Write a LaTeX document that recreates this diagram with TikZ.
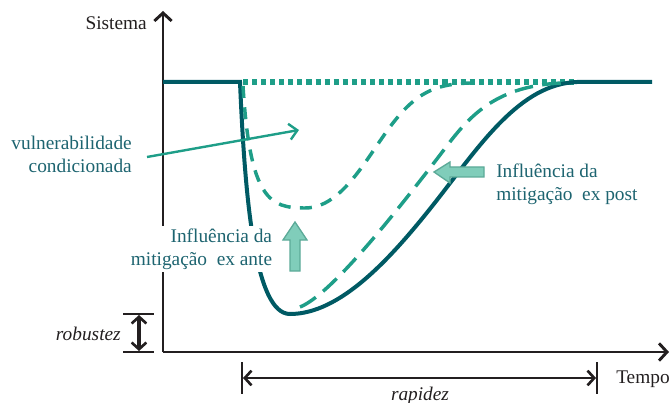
\documentclass[tikz,border=0pt]{standalone}
\usepackage{fontspec}
\setmainfont{Liberation Serif}
\usetikzlibrary{arrows.meta}
\definecolor{darkteal}{HTML}{005A64}
\definecolor{teal2}{HTML}{1E9E88}
\definecolor{txtteal}{HTML}{1D6470}
\definecolor{ink}{HTML}{231F20}
\definecolor{blockfill}{HTML}{80CDBA}
\definecolor{blockedge}{HTML}{5CAA98}
\begin{document}
\begin{tikzpicture}[x=0.75pt,y=-0.75pt,
  lbl/.style={font=\fontsize{14.5}{17.4}\selectfont, inner sep=0pt},
  axis/.style={draw=ink, line width=2.2pt, -{Straight Barb[length=6pt,width=13pt,line width=2.2pt]}},
  maincurve/.style={draw=darkteal, line width=3pt},
  dotline/.style={draw=teal2, line width=3.8pt, dash pattern=on 3.8pt off 3pt},
  shortdash/.style={draw=teal2, line width=2.6pt, dash pattern=on 9pt off 7pt},
  longdash/.style={draw=teal2, line width=2.6pt, dash pattern=on 14pt off 7pt},
  blockarrow/.style={fill=blockfill, draw=blockedge, line width=1pt},
  thinbar/.style={draw=ink, line width=1.5pt},
  dimarrow/.style={draw=ink, line width=2pt, {Straight Barb[length=5pt,width=11pt,line width=2pt]}-{Straight Barb[length=5pt,width=11pt,line width=2pt]}}
]
\useasboundingbox (0,0) rectangle (672,403);

% axes
\coordinate (O) at (163,352);
\coordinate (ytop) at (163,11);
\coordinate (xend) at (669,352);
\draw[axis] (O) -- (ytop);
\draw[axis] (O) -- (xend);
\node[lbl, text=ink, anchor=east] (sis) at (147,23) {Sistema};
\node[lbl, text=ink, anchor=west] (tempo) at (616,379) {Tempo};

% dotted baseline
\coordinate (d0) at (243,82);
\coordinate (d1) at (575,82);
\draw[dotline] (d0) -- (d1);

% main curve
\coordinate (m0) at (163,82);
\coordinate (m1) at (240,82);
\coordinate (mmin) at (290,314);
\coordinate (mmid) at (437,200);
\coordinate (mtop) at (577,82);
\coordinate (mend) at (652,82);
\draw[maincurve] (m0) -- (m1) .. controls (245,200) and (255,314) .. (mmin)
  .. controls (340,314) and (390,260) .. (mmid)
  .. controls (480,145) and (520,84) .. (mtop) -- (mend);

% ex ante dashed
\coordinate (a0) at (243,86);
\coordinate (amin) at (305,208);
\coordinate (amid) at (397,118);
\coordinate (aend) at (470,83);
\draw[shortdash] (a0) .. controls (250,200) and (270,208) .. (amin)
  .. controls (345,208) and (370,150) .. (amid)
  .. controls (420,90) and (440,84) .. (aend);

% ex post dashed
\coordinate (p0) at (300,307);
\coordinate (pmid) at (440,155);
\coordinate (pend) at (562,83);
\draw[longdash] (p0) .. controls (330,295) and (390,220) .. (pmid)
  .. controls (465,122) and (490,86) .. (pend);

% vulnerabilidade
\node[lbl, text=txtteal, align=right, anchor=east] (vul) at (132,154) {vulnerabilidade\\condicionada};
\coordinate (vs) at (147,157);
\coordinate (ve) at (299,130);
\draw[draw=teal2, line width=1.8pt, -{Straight Barb[length=6pt,width=12pt,line width=1.8pt]}] (vs) -- (ve);

% ex ante
\node[lbl, text=txtteal, align=right, anchor=east, fill=white, inner sep=2pt] (exante) at (275,249) {Influência da\\mitigação\ \ ex ante};
\draw[blockarrow] (295,222) -- (307,240) -- (300,240) -- (300,271) -- (290,271) -- (290,240) -- (283,240) -- cycle;

% ex post
\node[lbl, text=txtteal, align=left, anchor=west] (expost) at (496,184) {Influência da\\mitigação\ \ ex post};
\draw[blockarrow] (434,172) -- (450,162) -- (450,167) -- (484,167) -- (484,177) -- (450,177) -- (450,183) -- cycle;

% robustez
\coordinate (r1a) at (123,314);
\coordinate (r1b) at (154,314);
\coordinate (r2a) at (123,352);
\coordinate (r2b) at (154,352);
\draw[thinbar] (r1a) -- (r1b);
\draw[thinbar] (r2a) -- (r2b);
\coordinate (rt) at (139,315);
\coordinate (rb) at (139,351);
\draw[dimarrow, line width=2.6pt] (rt) -- (rb);
\node[lbl, text=ink, anchor=east, font=\fontsize{14.5}{17.4}\selectfont\itshape] (rob) at (121,334) {robustez};

% rapidez
\coordinate (q1a) at (242,362);
\coordinate (q1b) at (242,394);
\coordinate (q2a) at (597,362);
\coordinate (q2b) at (597,394);
\draw[thinbar] (q1a) -- (q1b);
\draw[thinbar] (q2a) -- (q2b);
\coordinate (ql) at (243,378);
\coordinate (qr) at (596,378);
\draw[dimarrow] (ql) -- (qr);
\node[lbl, text=ink, anchor=north, font=\fontsize{14.5}{17.4}\selectfont\itshape] (rap) at (420,387) {rapidez};
\end{tikzpicture}
\end{document}
